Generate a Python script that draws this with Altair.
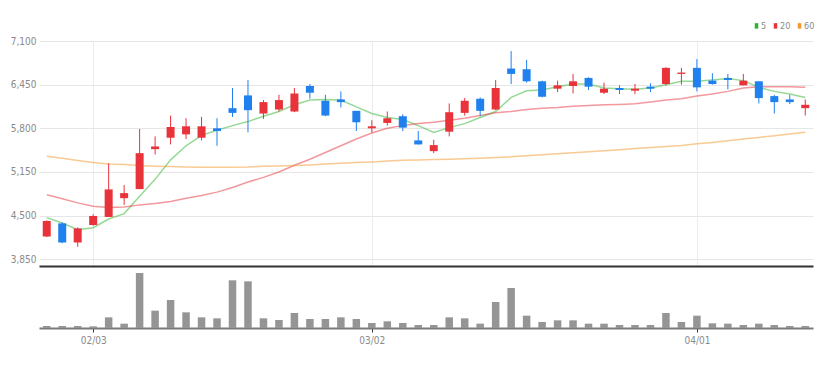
import altair as alt
import pandas as pd

FONT = "Liberation Sans Narrow, DejaVu Sans Condensed, sans-serif"
RED = "#e8333a"
BLUE = "#1f80ee"

dates = ["01/26", "01/27", "01/28", "02/03", "02/04", "02/07", "02/08", "02/09", "02/10", "02/11",
         "02/14", "02/15", "02/16", "02/17", "02/18", "02/21", "02/22", "02/23", "02/24", "02/25",
         "02/28", "03/02", "03/03", "03/04", "03/07", "03/08", "03/10", "03/11", "03/14", "03/15",
         "03/16", "03/17", "03/18", "03/21", "03/22", "03/23", "03/24", "03/25", "03/28", "03/29",
         "03/30", "03/31", "04/01", "04/04", "04/05", "04/06", "04/07", "04/08", "04/11", "04/12"]

opens = [4190, 4385, 4100, 4360, 4480, 4760, 4895, 5490, 5660, 5710,
         5660, 5800, 6100, 6290, 6020, 6080, 6050, 6430, 6210, 6230,
         6060, 5800, 5880, 5980, 5620, 5460, 5750, 6030, 6240, 6080,
         6690, 6680, 6500, 6390, 6430, 6550, 6330, 6400, 6360, 6420,
         6460, 6610, 6700, 6510, 6550, 6440, 6500, 6280, 6230, 6100]
highs = [4430, 4400, 4325, 4520, 5280, 4955, 5790, 5680, 5990, 5950,
         5970, 5950, 6400, 6520, 6220, 6300, 6400, 6460, 6300, 6350,
         6060, 5920, 6050, 6010, 5760, 5630, 6170, 6250, 6260, 6520,
         6950, 6820, 6510, 6510, 6610, 6560, 6480, 6440, 6460, 6470,
         6710, 6700, 6830, 6620, 6610, 6610, 6500, 6300, 6300, 6230]
lows = [4180, 4090, 4035, 4350, 4480, 4660, 4895, 5410, 5560, 5640,
        5620, 5540, 5970, 5740, 5940, 6050, 6040, 6240, 5980, 6110,
        5760, 5740, 5840, 5760, 5560, 5430, 5680, 5990, 5980, 6070,
        6460, 6480, 6260, 6340, 6320, 6370, 6310, 6310, 6310, 6340,
        6440, 6450, 6350, 6450, 6380, 6440, 6170, 6020, 6160, 5990]
closes = [4420, 4100, 4310, 4495, 4890, 4835, 5430, 5530, 5820, 5830,
          5830, 5760, 6030, 6070, 6190, 6220, 6320, 6330, 5990, 6190,
          5890, 5830, 5950, 5810, 5560, 5550, 6040, 6210, 6060, 6400,
          6610, 6500, 6270, 6440, 6500, 6420, 6390, 6370, 6390, 6390,
          6700, 6630, 6410, 6460, 6520, 6510, 6250, 6190, 6190, 6150]
volumes = [60000, 60000, 60000, 50000, 320000, 130000, 1650000, 520000, 840000, 470000,
           320000, 290000, 1430000, 1400000, 290000, 240000, 450000, 270000, 270000, 320000,
           270000, 150000, 200000, 150000, 90000, 90000, 320000, 290000, 130000, 780000,
           1200000, 370000, 180000, 230000, 230000, 130000, 130000, 90000, 90000, 90000,
           450000, 180000, 370000, 140000, 130000, 90000, 130000, 90000, 60000, 60000]
ma5 = [4470, 4390, 4290, 4320, 4450, 4530, 4790, 5040, 5330, 5540,
       5695, 5770, 5840, 5900, 5980, 6050, 6150, 6220, 6230, 6220,
       6120, 6020, 5960, 5930, 5840, 5740, 5810, 5870, 5960, 6050,
       6260, 6360, 6370, 6420, 6460, 6460, 6400, 6390, 6380, 6400,
       6450, 6500, 6500, 6520, 6540, 6510, 6410, 6350, 6310, 6260]
ma20 = [4810, 4750, 4690, 4640, 4620, 4630, 4660, 4680, 4710, 4760,
        4800, 4850, 4920, 5000, 5070, 5150, 5250, 5340, 5440, 5540,
        5640, 5730, 5800, 5840, 5870, 5890, 5920, 5950, 5990, 6030,
        6050, 6080, 6100, 6110, 6130, 6140, 6150, 6155, 6165, 6190,
        6220, 6240, 6280, 6310, 6350, 6400, 6420, 6420, 6420, 6410]
ma60 = [5385, 5355, 5320, 5290, 5270, 5260, 5245, 5235, 5230, 5225,
        5222, 5222, 5222, 5225, 5235, 5240, 5245, 5255, 5270, 5280,
        5290, 5300, 5315, 5325, 5330, 5335, 5340, 5345, 5355, 5365,
        5375, 5390, 5405, 5420, 5435, 5450, 5465, 5480, 5500, 5515,
        5530, 5545, 5570, 5590, 5615, 5640, 5665, 5690, 5715, 5740]

ma_names = ["5", "20", "60"]
ma_colors = ["#2bb32b", "#e8323c", "#f5962a"]
tick_idx = [3, 21, 42]
price_ticks = [3850, 4500, 5150, 5800, 6450, 7100]

n = len(dates)
df = pd.DataFrame({
    "i": list(range(n)), "date": dates, "open": opens, "high": highs,
    "low": lows, "close": closes, "volume": volumes,
})
ma_df = pd.DataFrame({
    "i": list(range(n)) * 3,
    "ma": [ma_names[0]] * n + [ma_names[1]] * n + [ma_names[2]] * n,
    "value": ma5 + ma20 + ma60,
})

label_expr = "''"
for k in reversed(tick_idx):
    label_expr = f"datum.value == {k} ? '{dates[k]}' : {label_expr}"

x_scale = alt.Scale(domain=[-0.5, n - 0.5], nice=False, zero=False, padding=0)
y_scale = alt.Scale(domain=[3750, 7100], nice=False, zero=False, padding=0)

price_x_axis = alt.Axis(values=tick_idx, labels=False, ticks=False, title=None,
                       domainColor="#333333", domainWidth=2, grid=True,
                       gridColor="#ececec", minExtent=0, maxExtent=0)
price_y_axis = alt.Axis(values=price_ticks, format=",.0f", title=None, domain=False,
                       ticks=False, labelColor="#8a8a8a", labelFont=FONT,
                       labelFontSize=10, labelPadding=3, grid=True,
                       gridColor="#e6e6e6", minExtent=31, maxExtent=31)

candle_color = alt.condition("datum.close >= datum.open", alt.value(RED), alt.value(BLUE))

lines = alt.Chart(ma_df).mark_line(strokeWidth=1.5, opacity=0.5).encode(
    x=alt.X("i:Q", scale=x_scale, axis=price_x_axis),
    y=alt.Y("value:Q", scale=y_scale, axis=price_y_axis),
    color=alt.Color("ma:N", scale=alt.Scale(domain=ma_names, range=ma_colors),
                    sort=ma_names,
                    legend=alt.Legend(title=None, orient="none", legendX=713, legendY=-20,
                                      direction="horizontal", symbolType="M0,-1V1",
                                      symbolSize=30, symbolStrokeWidth=3.5,
                                      symbolOpacity=1, labelFont=FONT, labelFontSize=9,
                                      labelColor="#8a8a8a", labelOffset=0,
                                      columnPadding=1, padding=0)),
)
base = alt.Chart(df)
wicks = base.mark_rule(strokeWidth=1).encode(
    x=alt.X("i:Q", scale=x_scale, axis=price_x_axis),
    y=alt.Y("low:Q", scale=y_scale, axis=price_y_axis),
    y2="high:Q",
    color=candle_color,
)
bodies = base.mark_bar(size=8).encode(
    x=alt.X("i:Q", scale=x_scale, axis=price_x_axis),
    y=alt.Y("open:Q", scale=y_scale, axis=price_y_axis),
    y2="close:Q",
    color=candle_color,
)

price = alt.layer(lines, wicks, bodies).properties(width=774, height=225)

volume = alt.Chart(df).mark_bar(size=7.5, color="#959595").encode(
    x=alt.X("i:Q", scale=x_scale,
            axis=alt.Axis(values=tick_idx, labelExpr=label_expr, title=None, grid=False,
                          domainColor="#7a7a7a", domainWidth=2, tickColor="#333333",
                          tickSize=4, labelColor="#8a8a8a", labelFont=FONT,
                          labelFontSize=10, labelPadding=3)),
    y=alt.Y("volume:Q", scale=alt.Scale(domain=[0, 1860000], nice=False, padding=0),
            axis=None),
).properties(width=774, height=62)

chart = alt.vconcat(price, volume, spacing=0).properties(
    padding={"left": 0, "top": 13, "right": 3, "bottom": 2},
    background="white",
).configure_view(stroke=None)

chart.save("out.html", embed_options={"renderer": "svg", "actions": False})
